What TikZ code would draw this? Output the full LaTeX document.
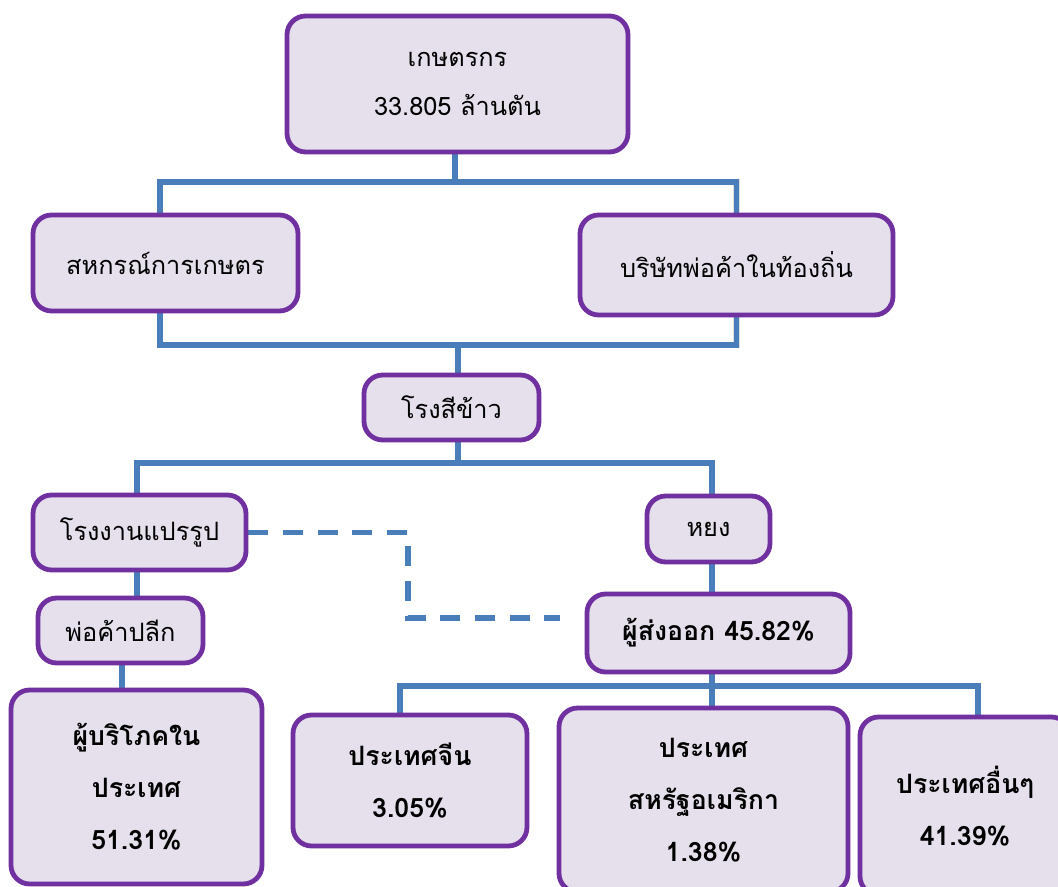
\documentclass[tikz,border=0pt]{standalone}
\usepackage{fontspec}
\setmainfont[Script=Thai]{Loma}
\pgfdeclarelayer{bg}
\pgfsetlayers{bg,main}
\definecolor{boxfill}{HTML}{E5E0EC}
\definecolor{boxline}{HTML}{7030A0}
\definecolor{lineblue}{HTML}{4A7EBB}
\tikzset{
  box/.style={draw=boxline, fill=boxfill, line width=3.6pt, rounded corners=14pt,
    align=center, inner sep=0pt, text=black},
  txt/.style={font=\fontsize{19}{37}\selectfont},
  btxt/.style={font=\bfseries\fontsize{20}{39}\selectfont},
  conn/.style={draw=lineblue, line width=4pt},
  connshadow/.style={draw=black, opacity=0.12, line width=5pt},
  dconn/.style={draw=lineblue, line width=4pt, dash pattern=on 15pt off 11pt},
}
\begin{document}
\begin{tikzpicture}[x=0.75pt,y=-0.75pt]
\useasboundingbox (0,0) rectangle (1058,887);
\clip (0,0) rectangle (1058,887);

% bus coordinates
\coordinate (b1) at (455,182);
\coordinate (b2) at (458,345);
\coordinate (b3) at (458,463);
\coordinate (b4) at (712,686);
\coordinate (dk) at (408,530);
\coordinate (dend) at (560,618);

% boxes
\node[box, txt, minimum width=255.75pt, minimum height=102pt] (farmer) at (457.5,84) {เกษตรกร\\33.805 ล้านตัน};
\node[box, txt, minimum width=198.75pt, minimum height=72pt] (coop) at (165.5,263) {สหกรณ์การเกษตร};
\node[box, txt, minimum width=234.75pt, minimum height=75pt] (local) at (736.5,265) {บริษัทพ่อค้าในท้องถิ่น};
\node[box, txt, minimum width=131.25pt, minimum height=48.75pt] (mill) at (451.5,407.5) {โรงสีข้าว};
\node[box, txt, minimum width=159.75pt, minimum height=56.25pt] (proc) at (139.5,532.5) {โรงงานแปรรูป};
\node[box, txt, minimum width=92.25pt, minimum height=49.5pt] (yong) at (708.5,529) {หยง};
\node[box, txt, minimum width=123.75pt, minimum height=48.75pt] (retail) at (120.5,630.5) {พ่อค้าปลีก};
\node[box, btxt, minimum width=197.25pt, minimum height=58.5pt] (export) at (718.5,633) {ผู้ส่งออก 45.82\%};
\node[box, btxt, minimum width=188.25pt, minimum height=145.5pt] (consumer) at (136.5,787) {ผู้บริโภคใน\\ประเทศ\\51.31\%};
\node[box, btxt, minimum width=175.5pt, minimum height=98.25pt] (china) at (410,780.5) {ประเทศจีน\\3.05\%};
\node[box, btxt, minimum width=216.75pt, minimum height=138pt] (usa) at (703.5,800) {ประเทศ\\สหรัฐอเมริกา\\1.38\%};
\node[box, btxt, minimum width=157.5pt, minimum height=133.5pt] (other) at (965,806) {ประเทศอื่นๆ\\41.39\%};

\begin{pgfonlayer}{bg}
\fill[white] (0,0) rectangle (1058,887);
% faint shadows of the connectors
\begin{scope}[yshift=-2.2pt]
\draw[connshadow] (coop.north -| 160,0) |- (b1) -| (local.north);
\draw[connshadow] (coop.south -| 160,0) |- (b2) -| (local.south);
\draw[connshadow] (proc.north -| 137,0) |- (b3) -| (yong.north -| 712,0);
\draw[connshadow] (china.north -| 400,0) |- (b4) -| (other.north -| 978,0);
\end{scope}
% top bus
\draw[conn] (farmer.south -| b1) -- (b1);
\draw[conn] (coop.north -| 160,0) |- (b1) -| (local.north);
% second bus
\draw[conn] (coop.south -| 160,0) |- (b2) -| (local.south);
\draw[conn] (b2) -- (mill.north -| b2);
% third bus
\draw[conn] (mill.south -| b3) -- (b3);
\draw[conn] (proc.north -| 137,0) |- (b3) -| (yong.north -| 712,0);
% left chain
\draw[conn] (proc.south -| 137,0) -- (retail.north -| 137,0);
\draw[conn] (retail.south -| 122,0) -- (consumer.north -| 122,0);
% right chain
\draw[conn] (yong.south -| 712,0) -- (export.north -| 712,0);
\draw[conn] (export.south -| b4) -- (b4);
\draw[conn] (china.north -| 400,0) |- (b4) -| (other.north -| 978,0);
\draw[conn] (b4) -- (usa.north -| b4);
% dashed
\draw[dconn] (proc.east) -- (proc.east -| dk) |- (dend);
\end{pgfonlayer}
\end{tikzpicture}
\end{document}
